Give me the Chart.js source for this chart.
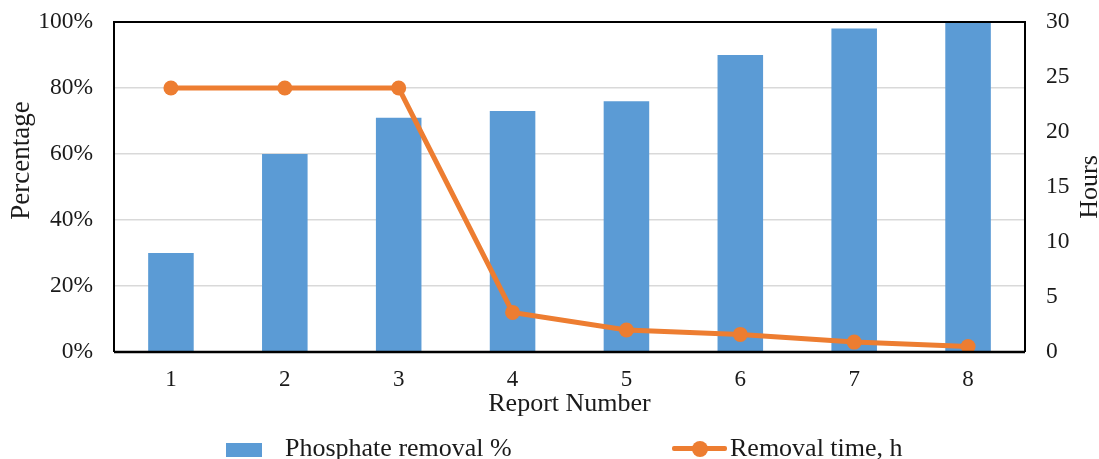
<!DOCTYPE html>
<html>
<head>
<meta charset="utf-8">
<script src="https://cdn.jsdelivr.net/npm/chart.js@4/dist/chart.umd.min.js"></script>
<style>
  html, body { margin: 0; padding: 0; background: #fff; }
  #wrap { position: relative; width: 1099px; height: 459px; overflow: hidden; }
  #c { position: absolute; left: 0; top: 0; }
  .legend { position: absolute; top: 433px; height: 30px; font-family: "Liberation Serif", "Times New Roman", serif; font-size: 26px; color: #1a1a1a; white-space: nowrap; line-height: 30px; }
  .sw-bar { position: absolute; width: 36px; height: 14px; background: #5B9BD5; top: 10px; }
  .sw-line { position: absolute; width: 55px; height: 5px; background: #ED7D31; top: 13px; border-radius: 2px; }
  .sw-dot { position: absolute; width: 16px; height: 16px; border-radius: 50%; background: #ED7D31; top: 7.5px; }
</style>
</head>
<body>
<div id="wrap">
  <canvas id="c" width="1099" height="459"></canvas>
  <div class="legend" style="left:226px;"><span class="sw-bar" style="left:0"></span><span style="position:absolute;left:59px;">Phosphate removal %</span></div>
  <div class="legend" style="left:672px;"><span class="sw-line" style="left:0"></span><span class="sw-dot" style="left:20px"></span><span style="position:absolute;left:58px;">Removal time, h</span></div>
</div>
<script>
const categories = ['1', '2', '3', '4', '5', '6', '7', '8'];
const phosphateRemoval = [30, 60, 71, 73, 76, 90, 98, 100];
const removalTime = [24, 24, 24, 3.6, 2.0, 1.6, 0.9, 0.5];
const leftTicksMax = 100;
const rightTicksMax = 30;
const leftTitle = 'Percentage';
const rightTitle = 'Hours';

const FONT = '"Liberation Serif", "Times New Roman", serif';
const TXT = '#1a1a1a';

function drawVTitle(ctx, text, x, y, size) {
  ctx.save();
  ctx.fillStyle = TXT;
  ctx.font = size + 'px ' + FONT;
  ctx.textAlign = 'center';
  ctx.textBaseline = 'middle';
  ctx.translate(x, y);
  ctx.rotate(-Math.PI / 2);
  ctx.fillText(text, 0, 0);
  ctx.restore();
}

const framePlugin = {
  id: 'frame',
  afterDatasetsDraw(chart) {
    const { ctx, chartArea: a } = chart;
    ctx.save();
    ctx.strokeStyle = '#000';
    ctx.lineWidth = 2;
    ctx.beginPath();
    ctx.moveTo(a.left, a.bottom);
    ctx.lineTo(a.left, a.top);
    ctx.lineTo(a.right, a.top);
    ctx.lineTo(a.right, a.bottom);
    ctx.stroke();
    ctx.lineWidth = 2.5;
    ctx.beginPath();
    ctx.moveTo(a.left, a.bottom);
    ctx.lineTo(a.right, a.bottom);
    ctx.stroke();
    ctx.restore();
  },
  afterDraw(chart) {
    const { ctx, chartArea: a } = chart;
    const sl = chart.scales.y, sr = chart.scales.y1;
    drawVTitle(ctx, leftTitle, sl.left + 22, a.top + (a.bottom - a.top) * 0.42, 27);
    drawVTitle(ctx, rightTitle, sr.right - 9, (a.top + a.bottom) / 2, 26);
  }
};

function fixV(width) {
  return function (s) { s.width = width; s.paddingTop = 0; s.paddingBottom = 0; };
}

new Chart(document.getElementById('c'), {
  data: {
    labels: categories,
    datasets: [
      {
        type: 'line',
        label: 'Removal time, h',
        data: removalTime,
        yAxisID: 'y1',
        borderColor: '#ED7D31',
        backgroundColor: '#ED7D31',
        borderWidth: 5,
        pointRadius: 7.5,
        pointHoverRadius: 7.5,
        pointBackgroundColor: '#ED7D31',
        pointBorderWidth: 0,
        tension: 0,
        order: 0
      },
      {
        type: 'bar',
        label: 'Phosphate removal %',
        data: phosphateRemoval,
        yAxisID: 'y',
        backgroundColor: '#5B9BD5',
        borderWidth: 0,
        barPercentage: 0.4,
        categoryPercentage: 1,
        order: 1
      }
    ]
  },
  options: {
    responsive: false,
    animation: false,
    events: [],
    layout: { padding: { top: 22, left: 0, right: 0, bottom: 39 } },
    plugins: { legend: { display: false }, tooltip: { enabled: false } },
    scales: {
      x: {
        grid: { display: false, drawTicks: false },
        border: { display: false },
        ticks: { color: TXT, font: { family: FONT, size: 23 }, padding: 14, maxRotation: 0 },
        title: { display: true, text: 'Report Number', color: TXT, font: { family: FONT, size: 26 }, padding: { top: 0, bottom: 0 } },
        afterFit(s) { s.height = 68; s.paddingLeft = 0; s.paddingRight = 0; }
      },
      y: {
        position: 'left',
        min: 0, max: leftTicksMax,
        grid: { color: '#d9d9d9', lineWidth: 1.5, drawTicks: false },
        border: { display: false },
        ticks: { stepSize: 20, color: TXT, font: { family: FONT, size: 23.5 }, padding: 21, callback: v => v + '%' },
        afterFit: fixV(114)
      },
      y1: {
        position: 'right',
        min: 0, max: rightTicksMax,
        grid: { display: false, drawTicks: false },
        border: { display: false },
        ticks: { stepSize: 5, color: TXT, font: { family: FONT, size: 23.5 }, padding: 21 },
        afterFit: fixV(74)
      }
    }
  },
  plugins: [framePlugin]
});
</script>
</body>
</html>
